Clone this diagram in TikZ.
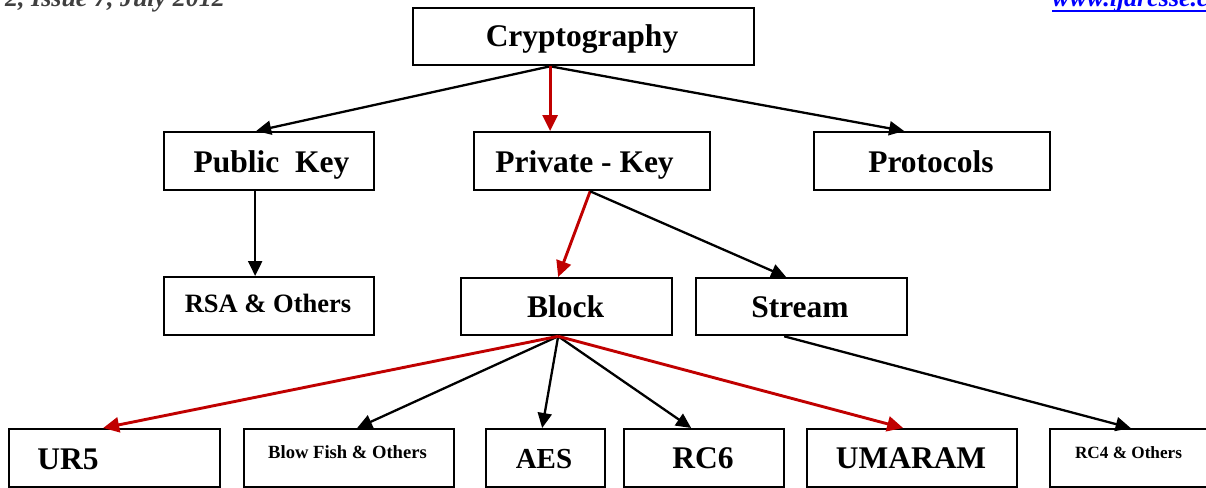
\documentclass[tikz,border=0pt]{standalone}
\usepackage{fontspec}
\setmainfont{Liberation Serif}
\usetikzlibrary{arrows.meta}
\definecolor{arrred}{RGB}{192,0,0}
\definecolor{hdrgray}{RGB}{64,64,64}
\begin{document}
\begin{tikzpicture}[x=1pt,y=-1pt,
  box/.style={draw, line width=2.3pt, inner sep=0pt, anchor=north west},
  lbl/.style={inner sep=0pt, anchor=base, font=\bfseries\fontsize{31.5}{36}\selectfont},
  lblsmall/.style={lbl, font=\bfseries\fontsize{#1}{#1}\selectfont},
  arr/.style={-{Triangle[length=15pt,width=14pt]}, line width=2.3pt, black},
  redarr/.style={-{Triangle[length=16pt,width=15pt]}, line width=2.9pt, arrred},
  hdr/.style={inner sep=0pt, font=\bfseries\itshape\fontsize{26}{30}\selectfont}]
\useasboundingbox (0,0) rectangle (1206,487);
% header fragments
\node[hdr, hdrgray, anchor=base west] (issue) at (5,7) {2, Issue 7, July 2012};
\node[hdr, blue, anchor=base west] (url) at (1052,7) {www.ijarcsse.com};
\draw[blue, line width=1.6pt] ([yshift=-4pt]url.base west) -- ([yshift=-4pt]url.base east);
% boxes
\node[box, minimum width=341pt, minimum height=57pt] (crypto) at (412,7) {};
\node[box, minimum width=210pt, minimum height=58pt] (public) at (163,131) {};
\node[box, minimum width=236pt, minimum height=58pt] (private) at (473,131) {};
\node[box, minimum width=236pt, minimum height=58pt] (protocols) at (813,131) {};
\node[box, minimum width=210pt, minimum height=58pt] (rsa) at (163,276) {};
\node[box, minimum width=211pt, minimum height=57pt] (block) at (460,277) {};
\node[box, minimum width=211pt, minimum height=57pt] (stream) at (695,277) {};
\node[box, minimum width=211pt, minimum height=58pt] (ur5) at (8,428) {};
\node[box, minimum width=210pt, minimum height=58pt] (blowfish) at (243,428) {};
\node[box, minimum width=119pt, minimum height=58pt] (aes) at (485,428) {};
\node[box, minimum width=160pt, minimum height=58pt] (rc6) at (623,428) {};
\node[box, minimum width=210pt, minimum height=58pt] (umaram) at (806,428) {};
\node[box, minimum width=161pt, minimum height=58pt] (rc4) at (1049,428) {};
% labels
\node[lbl] (tcrypto) at (582,47) {Cryptography};
\node[lbl] (tpublic) at (271.5,172) {Public\ \ Key};
\node[lbl] (tprivate) at (584.5,172) {Private - Key};
\node[lbl] (tprotocols) at (931,172) {Protocols};
\node[lblsmall=26.5] (trsa) at (268,312) {RSA \& Others};
\node[lbl] (tblock) at (565.5,317) {Block};
\node[lbl] (tstream) at (800,317) {Stream};
\node[lbl] (tur5) at (68,469) {UR5};
\node[lblsmall=18.6] (tblowfish) at (347.5,458) {Blow Fish \& Others};
\node[lblsmall=29] (taes) at (544,468) {AES};
\node[lbl] (trc6) at (703,468) {RC6};
\node[lbl] (tumaram) at (911,468) {UMARAM};
\node[lblsmall=17.2] (trc4) at (1128.5,458) {RC4 \& Others};
% connectors
\draw[arr] ([xshift=-33.5pt]crypto.south) -- ([xshift=-13pt]public.north);
\draw[arr] ([xshift=-33.5pt]crypto.south) -- ([xshift=-28pt]protocols.north);
\draw[redarr] ([xshift=-33.5pt]crypto.south) -- ([xshift=-42pt]private.north);
\draw[arr] ([xshift=-14pt]public.south) -- ([xshift=-14pt]rsa.north);
\draw[redarr] ([xshift=-2pt]private.south) -- ([xshift=-8.5pt]block.north);
\draw[arr] ([xshift=-2pt]private.south) -- ([xshift=-15.5pt]stream.north);
\draw[arr] ([xshift=-8.5pt]block.south) -- ([xshift=8pt]blowfish.north);
\draw[arr] ([xshift=-8.5pt]block.south) -- ([xshift=-3.5pt]aes.north);
\draw[arr] ([xshift=-8.5pt]block.south) -- ([xshift=-13pt]rc6.north);
\draw[redarr] ([xshift=-8.5pt]block.south) -- ([xshift=-11.5pt]ur5.north);
\draw[redarr] ([xshift=-8.5pt]block.south) -- ([xshift=-9pt]umaram.north);
\draw[arr] ([xshift=-17.5pt]stream.south) -- ([xshift=0pt]rc4.north);
\end{tikzpicture}
\end{document}
